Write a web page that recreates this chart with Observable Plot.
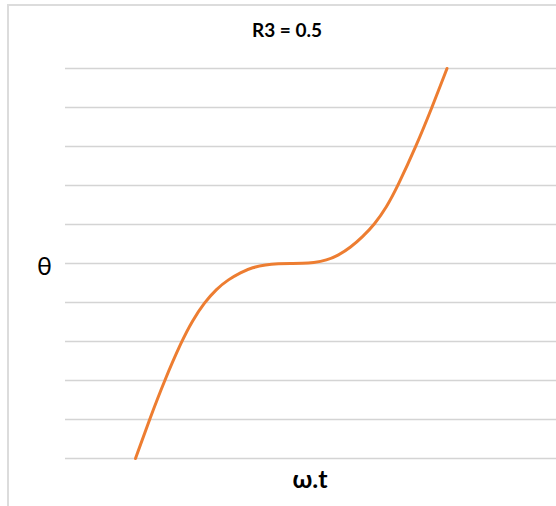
<!DOCTYPE html>
<html>
<head>
<meta charset="utf-8">
<script src="https://cdn.jsdelivr.net/npm/d3@7"></script>
<script src="https://cdn.jsdelivr.net/npm/@observablehq/plot@0.6"></script>
<style>
  html, body { margin: 0; padding: 0; background: #fff; overflow: hidden; }
  #wrap { position: relative; width: 556px; height: 506px; }
  #border { position: absolute; left: 7px; top: 4px; width: 700px; height: 700px;
            border-left: 2px solid #dcdcdc; border-top: 2px solid #dcdcdc; pointer-events: none; }
</style>
</head>
<body>
<div id="wrap"><div id="border"></div></div>
<script>
// ω.t (degrees, as read) and θ (grid units)
const omegaT = [51.32, 61.6, 72.59, 85.05, 93.12, 101.91, 110.71, 119.51, 128.31, 137.11, 146.64, 156.17, 164.97,
                173.77, 181.83, 191.37, 200.16, 208.96, 217.76, 226.5, 235.36, 243.42, 256.99, 268.72, 279.72];
const theta  = [-5.00, -4.00, -3.00, -2.00, -1.46, -1.00, -0.65, -0.41, -0.23, -0.10, -0.03, -0.005, 0.00,
                0.00, 0.02, 0.08, 0.21, 0.41, 0.68, 1.00, 1.44, 1.97, 3.00, 4.00, 5.00];
const gridTicks = [-5, -4, -3, -2, -1, 0, 1, 2, 3, 4, 5];
const titleText = "R3 = 0.5";
const xLabel = "ω.t";
const yLabel = "θ";

const data = omegaT.map((x, i) => ({x, y: theta[i]}));
const font = "Lato, 'Open Sans', sans-serif";

const chart = Plot.plot({
  width: 556,
  height: 506,
  marginLeft: 65,
  marginRight: 0,
  marginTop: 68,
  marginBottom: 48,
  style: {fontFamily: font, color: "#000", background: "transparent"},
  x: {domain: [0, 360], axis: null},
  y: {domain: [-5, 5], axis: null},
  marks: [
    Plot.gridY(gridTicks, {stroke: "#d4d4d4", strokeOpacity: 1, strokeWidth: 1.3}),
    Plot.line(data, {x: "x", y: "y", stroke: "#ED7D31", strokeWidth: 3, curve: "basis"}),
    Plot.text([titleText], {frameAnchor: "top", lineAnchor: "middle", textAnchor: "middle", dx: -24, dy: -38, fontSize: 19, fontWeight: "bold", fill: "#000"}),
    Plot.text([yLabel], {frameAnchor: "left", lineAnchor: "middle", textAnchor: "middle", dx: -21, dy: 3, fontSize: 25, fill: "#000"}),
    Plot.text([xLabel], {frameAnchor: "bottom", lineAnchor: "middle", textAnchor: "middle", dx: -1, dy: 21, fontSize: 25, fontWeight: "bold", fill: "#000"})
  ]
});
chart.style.position = "absolute";
chart.style.left = "0px";
chart.style.top = "0px";
document.getElementById("wrap").insertBefore(chart, document.getElementById("border"));
</script>
</body>
</html>
